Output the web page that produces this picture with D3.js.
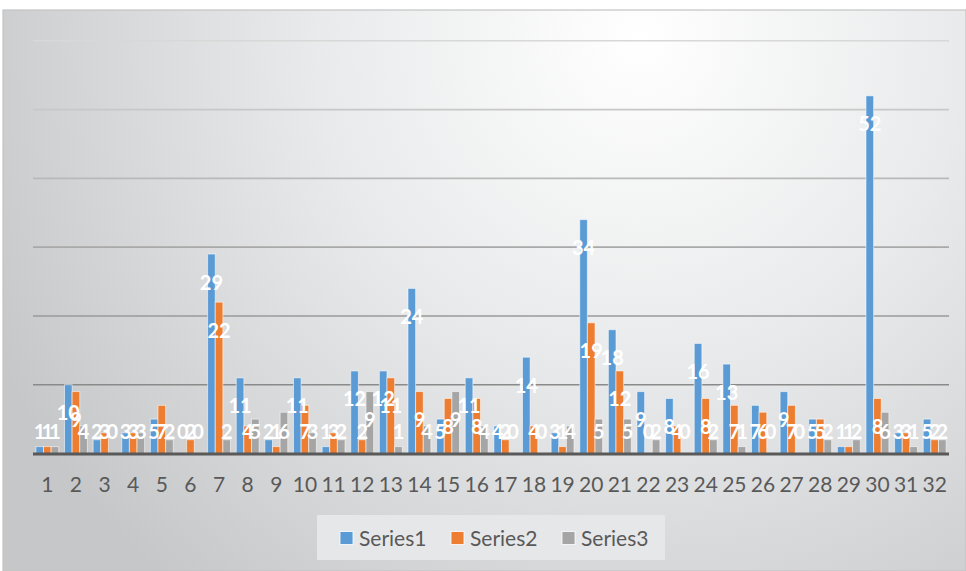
<!DOCTYPE html>
<html>
<head>
<meta charset="utf-8">
<script src="https://cdn.jsdelivr.net/npm/d3@7/dist/d3.min.js"></script>
<style>
  html, body { margin: 0; padding: 0; background: #ffffff; }
  svg { display: block; }
</style>
</head>
<body>
<svg id="chart" width="966" height="571"></svg>
<script>
const categories = ["1","2","3","4","5","6","7","8","9","10","11","12","13","14","15","16","17","18","19","20","21","22","23","24","25","26","27","28","29","30","31","32"];
const seriesNames = ["Series1", "Series2", "Series3"];
const series1 = [1,10,2,3,5,0,29,11,2,11,1,12,12,24,5,11,4,14,3,34,18,9,8,16,13,7,9,5,1,52,3,5];
const series2 = [1,9,3,3,7,2,22,4,1,7,3,2,11,9,8,8,2,4,1,19,12,0,4,8,7,6,7,5,1,8,3,2];
const series3 = [1,4,0,3,2,0,2,5,6,3,2,9,1,4,9,4,0,0,4,5,5,2,0,2,1,0,0,2,2,6,1,2];
const yTicks = [0,10,20,30,40,50,60];
const colors = ["#5b9bd5", "#ed7d31", "#a5a5a5"];

const allSeries = [series1, series2, series3];
const svg = d3.select("#chart");
const W = 966, H = 571;

// background
const defs = svg.append("defs");
const rg = defs.append("radialGradient").attr("id", "bg")
  .attr("gradientUnits", "userSpaceOnUse")
  .attr("cx", 640).attr("cy", 40).attr("r", 720);
rg.append("stop").attr("offset", "0").attr("stop-color", "#ffffff");
rg.append("stop").attr("offset", "0.45").attr("stop-color", "#e9eaeb");
rg.append("stop").attr("offset", "1").attr("stop-color", "#c6c7c9");

svg.append("rect").attr("x", 3).attr("y", 10).attr("width", W - 3).attr("height", H - 10)
  .attr("fill", "url(#bg)").attr("stroke", "#c4c4c4").attr("stroke-width", 1.2);

const plot = { left: 33, right: 949, top: 40.8, bottom: 453.5 };

const x0 = d3.scaleBand().domain(categories).range([plot.left, plot.right])
  .paddingInner(0.2).paddingOuter(0.1);
const x1 = d3.scaleBand().domain(seriesNames).range([0, x0.bandwidth()]).padding(0);
const y = d3.scaleLinear().domain([0, 60]).range([plot.bottom, plot.top]);

// gridlines
const gridColor = d3.scaleLinear().domain([10, 60]).range(["#8a8a8a", "#d8d8d8"]);
svg.append("g").selectAll("line").data(yTicks.filter(t => t > 0)).join("line")
  .attr("x1", plot.left).attr("x2", plot.right)
  .attr("y1", d => y(d)).attr("y2", d => y(d))
  .attr("stroke", d => gridColor(d)).attr("stroke-width", 1.6);

// bars
const rows = [];
categories.forEach((c, i) => {
  seriesNames.forEach((s, j) => rows.push({ cat: c, s, j, v: allSeries[j][i] }));
});

svg.append("g").selectAll("rect").data(rows).join("rect")
  .attr("x", d => x0(d.cat) + x1(d.s))
  .attr("width", x1.bandwidth())
  .attr("y", d => y(d.v))
  .attr("height", d => plot.bottom - y(d.v))
  .attr("fill", d => colors[d.j])
  .attr("stroke", "rgba(255,255,255,0.55)")
  .attr("stroke-width", 1);

// baseline
svg.append("line").attr("x1", plot.left).attr("x2", plot.right)
  .attr("y1", y(0) + 0.5).attr("y2", y(0) + 0.5)
  .attr("stroke", "#595959").attr("stroke-width", 3);

// x axis labels
const xAxis = d3.axisBottom(x0).tickSize(0).tickPadding(0);
const gx = svg.append("g").attr("transform", `translate(0,${plot.bottom})`).call(xAxis);
gx.select(".domain").remove();
gx.selectAll("text")
  .attr("y", 38).attr("dy", null)
  .attr("font-family", "Lato, 'Open Sans', sans-serif")
  .attr("font-size", 21).attr("fill", "#595959");

// data labels
svg.append("g").selectAll("text").data(rows).join("text")
  .attr("x", d => x0(d.cat) + x1(d.s) + x1.bandwidth() / 2)
  .attr("y", d => Math.min(y(d.v) + 28.5, 432) + 7)
  .attr("text-anchor", "middle")
  .attr("font-family", "Lato, 'Open Sans', sans-serif")
  .attr("font-weight", "bold")
  .attr("font-size", 20)
  .attr("fill", "#ffffff")
  .text(d => d.v);

// legend
const lg = svg.append("g");
lg.append("rect").attr("x", 317).attr("y", 515).attr("width", 348).attr("height", 45)
  .attr("fill", "#e6e7e9");
const legendX = [340, 451, 562];
seriesNames.forEach((s, j) => {
  lg.append("rect").attr("x", legendX[j]).attr("y", 531.5).attr("width", 13).attr("height", 13)
    .attr("fill", colors[j]).attr("stroke", "rgba(255,255,255,0.8)").attr("stroke-width", 1);
  lg.append("text").attr("x", legendX[j] + 19).attr("y", 545.5)
    .attr("font-family", "Lato, 'Open Sans', sans-serif")
    .attr("font-size", 21).attr("fill", "#595959").text(s);
});
</script>
</body>
</html>
